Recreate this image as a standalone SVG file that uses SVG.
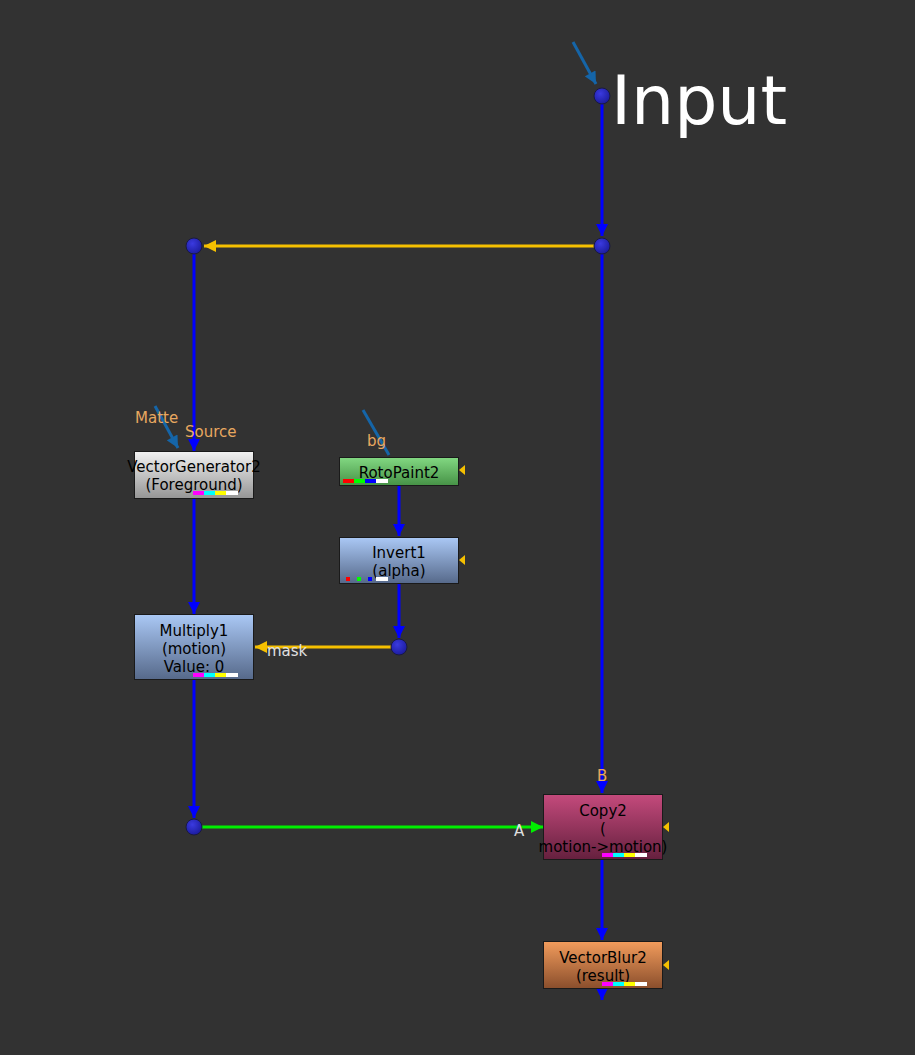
<svg xmlns="http://www.w3.org/2000/svg" width="915" height="1055" viewBox="0 0 915 1055">
<style>
text{font-family:"DejaVu Sans","Liberation Sans",sans-serif}
.nt{font-size:15px;fill:#000;text-anchor:middle}
.lbl{font-size:15px;fill:#e8a860}
.wl{font-size:15px;fill:#e0e0e0}
.node{stroke:#1a1a1a;stroke-width:1}
.blue{stroke:#0000ff;stroke-width:3;fill:none}
.yel{stroke:#f5c000;stroke-width:3;fill:none}
.grn{stroke:#00ee00;stroke-width:3;fill:none}
.inp{stroke:#1565a8;stroke-width:3;fill:none}
.dot{fill:url(#gdot);stroke:#1a1a40;stroke-width:1}
.tri{fill:#f5c000}
</style>
<defs>
<marker id="ab" viewBox="0 0 10 10" refX="10" refY="5" markerWidth="4.3" markerHeight="4" orient="auto" markerUnits="strokeWidth"><path d="M0,0L10,5L0,10z" fill="#0000ff"/></marker>
<marker id="ay" viewBox="0 0 10 10" refX="10" refY="5" markerWidth="5" markerHeight="4" orient="auto" markerUnits="strokeWidth"><path d="M0,0L10,5L0,10z" fill="#f5c000"/></marker>
<marker id="ag" viewBox="0 0 10 10" refX="10" refY="5" markerWidth="5.5" markerHeight="4" orient="auto" markerUnits="strokeWidth"><path d="M0,0L10,5L0,10z" fill="#00ee00"/></marker>
<marker id="ai" viewBox="0 0 10 10" refX="10" refY="5" markerWidth="5" markerHeight="4" orient="auto" markerUnits="strokeWidth"><path d="M0,0L10,5L0,10z" fill="#1565a8"/></marker>
<radialGradient id="gdot" cx="0.4" cy="0.35" r="0.7"><stop offset="0" stop-color="#3a3ae0"/><stop offset="1" stop-color="#1a1a9a"/></radialGradient>
<linearGradient id="gvg" x1="0" y1="0" x2="0" y2="1"><stop offset="0" stop-color="#f2f2f2"/><stop offset="1" stop-color="#959595"/></linearGradient>
<linearGradient id="grp" x1="0" y1="0" x2="0" y2="1"><stop offset="0" stop-color="#82d882"/><stop offset="1" stop-color="#469246"/></linearGradient>
<linearGradient id="gbl" x1="0" y1="0" x2="0" y2="1"><stop offset="0" stop-color="#aac8f5"/><stop offset="1" stop-color="#56698a"/></linearGradient>
<linearGradient id="gcp" x1="0" y1="0" x2="0" y2="1"><stop offset="0" stop-color="#c44a7c"/><stop offset="1" stop-color="#65203e"/></linearGradient>
<linearGradient id="gvb" x1="0" y1="0" x2="0" y2="1"><stop offset="0" stop-color="#f29c5c"/><stop offset="1" stop-color="#8a4e2c"/></linearGradient>
</defs>
<rect width="915" height="1055" fill="#323232"/>

<g id="connectors">
<line class="inp" x1="573" y1="42" x2="596" y2="84" marker-end="url(#ai)"/>
<line class="inp" x1="155" y1="406" x2="178" y2="448" marker-end="url(#ai)"/>
<line class="inp" x1="363" y1="410" x2="389" y2="455" stroke-width="2"/>
<line class="blue" x1="602" y1="104" x2="602" y2="236" marker-end="url(#ab)"/>
<line class="yel" x1="594" y1="246" x2="204" y2="246" marker-end="url(#ay)"/>
<line class="blue" x1="194" y1="254" x2="194" y2="451" marker-end="url(#ab)"/>
<line class="blue" x1="194" y1="498" x2="194" y2="614" marker-end="url(#ab)"/>
<line class="blue" x1="399" y1="485" x2="399" y2="536" marker-end="url(#ab)"/>
<line class="blue" x1="399" y1="583" x2="399" y2="638" marker-end="url(#ab)"/>
<line class="yel" x1="391" y1="647" x2="255" y2="647" marker-end="url(#ay)"/>
<line class="blue" x1="194" y1="679" x2="194" y2="818" marker-end="url(#ab)"/>
<line class="grn" x1="202" y1="827" x2="543" y2="827" marker-end="url(#ag)"/>
<line class="blue" x1="602" y1="254" x2="602" y2="793" marker-end="url(#ab)"/>
<line class="blue" x1="602" y1="859" x2="602" y2="940" marker-end="url(#ab)"/>
<line class="blue" x1="602" y1="988" x2="602" y2="1000" marker-end="url(#ab)"/>
</g>

<g id="dots">
<circle class="dot" cx="602" cy="96" r="8"/>
<circle class="dot" cx="602" cy="246" r="8"/>
<circle class="dot" cx="194" cy="246" r="8"/>
<circle class="dot" cx="399" cy="647" r="8"/>
<circle class="dot" cx="194" cy="827" r="8"/>
</g>

<text x="611" y="124" font-size="68" fill="#ffffff">Input</text>

<g id="VectorGenerator2">
<rect class="node" x="134.5" y="451.5" width="119" height="47" fill="url(#gvg)"/>
<text class="nt" x="194" y="472">VectorGenerator2</text>
<text class="nt" x="194" y="490">(Foreground)</text>
<rect x="193" y="491" width="11" height="4" fill="#ff00ff"/><rect x="204" y="491" width="11" height="4" fill="#00ffff"/><rect x="215" y="491" width="11" height="4" fill="#ffff00"/><rect x="226" y="491" width="12" height="4" fill="#ffffff"/>
</g>

<g id="RotoPaint2">
<rect class="node" x="339.5" y="457.5" width="119" height="28" fill="url(#grp)"/>
<text class="nt" x="399" y="478">RotoPaint2</text>
<rect x="343" y="479" width="11" height="4" fill="#ff0000"/><rect x="354" y="479" width="11" height="4" fill="#00ff00"/><rect x="365" y="479" width="11" height="4" fill="#0000ff"/><rect x="376" y="479" width="12" height="4" fill="#ffffff"/>
<path class="tri" d="M459,470L465,465L465,475z"/>
</g>

<g id="Invert1">
<rect class="node" x="339.5" y="537.5" width="119" height="46" fill="url(#gbl)"/>
<text class="nt" x="399" y="558">Invert1</text>
<text class="nt" x="399" y="576">(alpha)</text>
<rect x="346" y="577" width="4" height="4" fill="#ff0000"/><rect x="357" y="577" width="4" height="4" fill="#00ff00"/><rect x="368" y="577" width="4" height="4" fill="#0000ff"/><rect x="376" y="577" width="12" height="4" fill="#ffffff"/>
<path class="tri" d="M459,560L465,555L465,565z"/>
</g>

<g id="Multiply1">
<rect class="node" x="134.5" y="614.5" width="119" height="65" fill="url(#gbl)"/>
<text class="nt" x="194" y="636">Multiply1</text>
<text class="nt" x="194" y="654">(motion)</text>
<text class="nt" x="194" y="672">Value: 0</text>
<rect x="193" y="673" width="11" height="4" fill="#ff00ff"/><rect x="204" y="673" width="11" height="4" fill="#00ffff"/><rect x="215" y="673" width="11" height="4" fill="#ffff00"/><rect x="226" y="673" width="12" height="4" fill="#ffffff"/>
</g>

<g id="Copy2">
<rect class="node" x="543.5" y="794.5" width="119" height="65" fill="url(#gcp)"/>
<text class="nt" x="603" y="816">Copy2</text>
<text class="nt" x="603" y="834">(</text>
<text class="nt" x="603" y="852">motion-&gt;motion)</text>
<rect x="602" y="853" width="11" height="4" fill="#ff00ff"/><rect x="613" y="853" width="11" height="4" fill="#00ffff"/><rect x="624" y="853" width="11" height="4" fill="#ffff00"/><rect x="635" y="853" width="12" height="4" fill="#ffffff"/>
<path class="tri" d="M663,827L669,822L669,832z"/>
</g>

<g id="VectorBlur2">
<rect class="node" x="543.5" y="941.5" width="119" height="47" fill="url(#gvb)"/>
<text class="nt" x="603" y="963">VectorBlur2</text>
<text class="nt" x="603" y="981">(result)</text>
<rect x="602" y="982" width="11" height="4" fill="#ff00ff"/><rect x="613" y="982" width="11" height="4" fill="#00ffff"/><rect x="624" y="982" width="11" height="4" fill="#ffff00"/><rect x="635" y="982" width="12" height="4" fill="#ffffff"/>
<path class="tri" d="M663,965L669,960L669,970z"/>
</g>

<g id="labels">
<text class="lbl" x="135" y="423">Matte</text>
<text class="lbl" x="185" y="437">Source</text>
<text class="lbl" x="367" y="446">bg</text>
<text class="wl" x="267" y="656">mask</text>
<text class="lbl" x="597" y="781">B</text>
<text class="wl" x="514" y="836">A</text>
</g>
</svg>
